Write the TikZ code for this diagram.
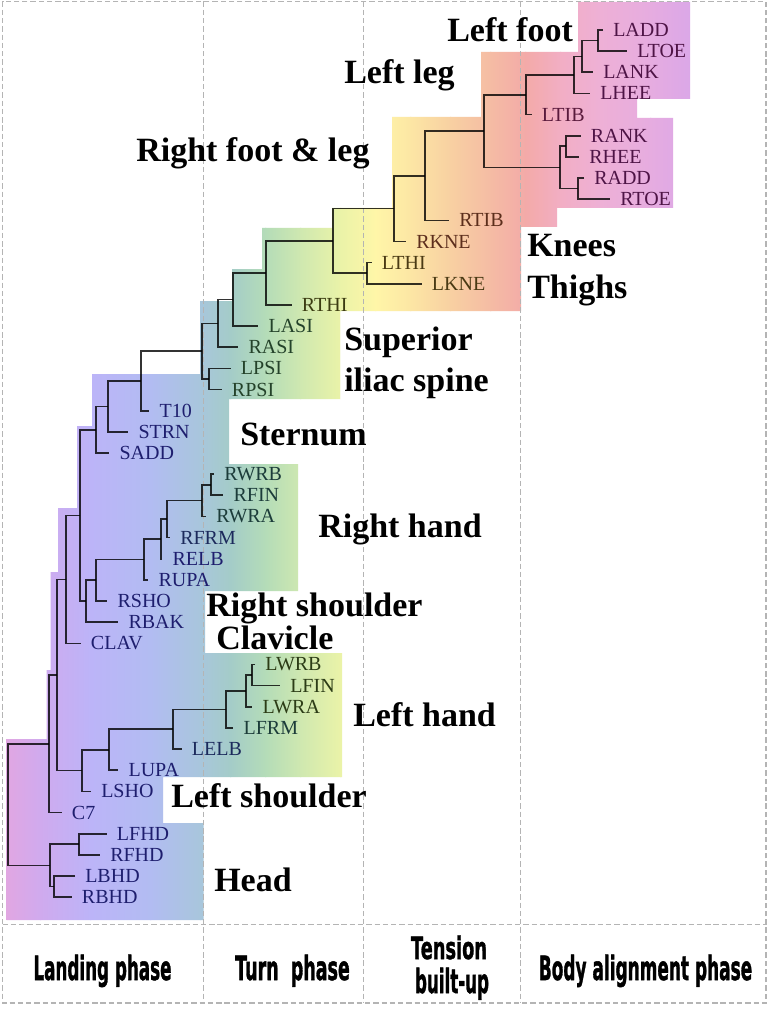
\documentclass[tikz,border=0pt]{standalone}
\usepackage{fontspec}
\setmainfont{Liberation Serif}
\newfontfamily\phasefont{DejaVu Sans}[BoldFeatures={FakeBold=1.6}]
\usepackage{graphicx}
\usetikzlibrary{calc}
% gradient stops
\definecolor{g0}{HTML}{E4A6E0}
\definecolor{g1}{HTML}{D0AAEE}
\definecolor{g2}{HTML}{BCB4F8}
\definecolor{g3}{HTML}{B2BCF2}
\definecolor{g4}{HTML}{A8C6DC}
\definecolor{g5}{HTML}{A4CCC8}
\definecolor{g6}{HTML}{B4DCB8}
\definecolor{g7}{HTML}{CFE8B0}
\definecolor{g8}{HTML}{EAF3A8}
\definecolor{g9}{HTML}{FFF6A8}
\definecolor{g10}{HTML}{FCE6A4}
\definecolor{g11}{HTML}{F8D0A2}
\definecolor{g12}{HTML}{F5BCA4}
\definecolor{g13}{HTML}{F3AAA8}
\definecolor{g14}{HTML}{F2AEC4}
\definecolor{g15}{HTML}{EEB0D6}
\definecolor{g16}{HTML}{E6ACE0}
\definecolor{g17}{HTML}{D8A6EA}
% label colours
\definecolor{cP}{HTML}{4E1446}
\definecolor{cM}{HTML}{5A1A3C}
\definecolor{cB}{HTML}{5C2E1C}
\definecolor{cO}{HTML}{4A3A14}
\definecolor{cOO}{HTML}{3C3C12}
\definecolor{cG}{HTML}{24422A}
\definecolor{cN}{HTML}{1E1E6E}
\definecolor{cNT}{HTML}{1C2A5C}
\definecolor{cT}{HTML}{1C3C3A}
\definecolor{cOG}{HTML}{2C3C16}
\definecolor{gridc}{HTML}{B4B4B4}
\newcommand\mkleaf[4]{\node[leaflab,text=#4] (#1) at ({#2-10},{30+(#3-1)*21.15}) {#1};}
\newcommand\mkjn[4]{\path let \p1=(#3), \p2=(#4) in coordinate (#1) at ({#2*0.75pt},{(\y1+\y2)/2});
  \draw[tl] (#3) -| (#1) |- (#4);}
\newcommand\phz[3]{\resizebox{#1}{#2}{\phasefont\bfseries #3}}
\begin{document}
\begin{tikzpicture}[x=0.75pt,y=-0.75pt,
  leaflab/.style={anchor=west,inner xsep=7.5pt,inner ysep=0pt,font=\fontsize{15}{15}\selectfont},
  tl/.style={draw=black,draw opacity=0.8,line width=1.25pt},
  big/.style={anchor=base west,inner sep=0pt,text=black,font=\fontsize{25.5}{28}\selectfont\bfseries},
  phase/.style={anchor=base,inner sep=0pt,text=black},
  grid/.style={draw=gridc,line width=1.1pt,dash pattern=on 4pt off 2.2pt}]
\useasboundingbox (0,0) rectangle (769,1009);
\fill[white] (0,0) rectangle (769,1009);
% gradient regions
\begin{scope}
\clip (578,2) rectangle (690,99) (481,52) rectangle (637,118) (557,118) rectangle (673,208)
  (392,117) rectangle (557,227) (392,117) rectangle (521,311) (332,208) rectangle (392,311)
  (262,228) rectangle (340,311) (232,269) rectangle (340,399) (200,301) rectangle (232,399)
  (92,374) rectangle (229,464) (77,426) rectangle (229,464) (77,464) rectangle (298,591)
  (58,508) rectangle (298,591) (50.7,572) rectangle (205,653) (50.7,653) rectangle (342,777)
  (46.7,670) rectangle (342,777) (46.7,777) rectangle (163,823) (6.7,739) rectangle (163,823)
  (6.7,823) rectangle (203.5,920);
\foreach \xa/\xb/\ca/\cb in {0/40/g0/g1,40/90/g1/g2,90/150/g2/g3,150/200/g3/g4,200/230/g4/g5,
  230/265/g5/g6,265/300/g6/g7,300/340/g7/g8,340/375/g8/g9,375/410/g9/g10,410/450/g10/g11,
  450/490/g11/g12,490/525/g12/g13,525/560/g13/g14,560/600/g14/g15,600/650/g15/g16,650/700/g16/g17,700/769/g17/g17}
  {\shade[left color=\ca,right color=\cb] (\xa,0) rectangle (\xb+1,1009);}
\end{scope}
% dashed grid
\draw[grid] (2.5,1.5) rectangle (766,1003);
\draw[grid] (2.5,924.5) -- (766,924.5);
\foreach \gx in {203.5,363.5,520.5} {\draw[grid] (\gx,1.5) -- (\gx,1003);}
% leaves
\mkleaf{LADD}{613}{1}{cP}
\mkleaf{LTOE}{637}{2}{cP}
\mkleaf{LANK}{603}{3}{cP}
\mkleaf{LHEE}{600}{4}{cP}
\mkleaf{LTIB}{541.7}{5}{cM}
\mkleaf{RANK}{590.7}{6}{cP}
\mkleaf{RHEE}{589}{7}{cP}
\mkleaf{RADD}{594}{8}{cP}
\mkleaf{RTOE}{620}{9}{cP}
\mkleaf{RTIB}{459}{10}{cB}
\mkleaf{RKNE}{416}{11}{cB}
\mkleaf{LTHI}{381.7}{12}{cO}
\mkleaf{LKNE}{431.7}{13}{cO}
\mkleaf{RTHI}{301.7}{14}{cOO}
\mkleaf{LASI}{268.3}{15}{cG}
\mkleaf{RASI}{248.3}{16}{cG}
\mkleaf{LPSI}{240.7}{17}{cG}
\mkleaf{RPSI}{231.7}{18}{cG}
\mkleaf{T10}{159.3}{19}{cN}
\mkleaf{STRN}{138.3}{20}{cN}
\mkleaf{SADD}{119.3}{21}{cN}
\mkleaf{RWRB}{224}{22}{cT}
\mkleaf{RFIN}{233.3}{23}{cT}
\mkleaf{RWRA}{216}{24}{cT}
\mkleaf{RFRM}{180}{25}{cNT}
\mkleaf{RELB}{172.3}{26}{cN}
\mkleaf{RUPA}{158.3}{27}{cN}
\mkleaf{RSHO}{117.3}{28}{cN}
\mkleaf{RBAK}{128.3}{29}{cN}
\mkleaf{CLAV}{90.7}{30}{cN}
\mkleaf{LWRB}{265}{31}{cOG}
\mkleaf{LFIN}{290}{32}{cOG}
\mkleaf{LWRA}{262.3}{33}{cOG}
\mkleaf{LFRM}{243.3}{34}{cT}
\mkleaf{LELB}{191.7}{35}{cNT}
\mkleaf{LUPA}{128.3}{36}{cN}
\mkleaf{LSHO}{101}{37}{cN}
\mkleaf{C7}{71.7}{38}{cN}
\mkleaf{LFHD}{116.7}{39}{cN}
\mkleaf{RFHD}{110}{40}{cN}
\mkleaf{LBHD}{85}{41}{cN}
\mkleaf{RBHD}{81.7}{42}{cN}
% junctions
\mkjn{n1}{598}{LADD.west}{LTOE.west}
\mkjn{n2}{581.7}{n1}{LANK.west}
\mkjn{n3}{574.3}{n2}{LHEE.west}
\mkjn{n4}{525.7}{n3}{LTIB.west}
\mkjn{n5}{566}{RANK.west}{RHEE.west}
\mkjn{n6}{578.3}{RADD.west}{RTOE.west}
\mkjn{n7}{560}{n5}{n6}
\mkjn{n8}{484.3}{n4}{n7}
\mkjn{n9}{425}{n8}{RTIB.west}
\mkjn{n10}{394.3}{n9}{RKNE.west}
\mkjn{n11}{366.7}{LTHI.west}{LKNE.west}
\mkjn{n12}{332.7}{n10}{n11}
\mkjn{n13}{265.7}{n12}{RTHI.west}
\mkjn{n14}{233.3}{n13}{LASI.west}
\mkjn{n15}{218.3}{n14}{RASI.west}
\mkjn{n16}{209.3}{LPSI.west}{RPSI.west}
\mkjn{n17}{201.7}{n15}{n16}
\mkjn{n18}{140.7}{n17}{T10.west}
\mkjn{n19}{107.7}{n18}{STRN.west}
\mkjn{n20}{95.7}{n19}{SADD.west}
\mkjn{h1}{210.7}{RWRB.west}{RFIN.west}
\mkjn{h2}{201.7}{h1}{RWRA.west}
\mkjn{h3}{166.7}{h2}{RFRM.west}
\mkjn{h4}{161}{h3}{RELB.west}
\mkjn{h5}{144}{h4}{RUPA.west}
\mkjn{h6}{95.7}{h5}{RSHO.west}
\mkjn{h7}{86}{h6}{RBAK.west}
\mkjn{n21}{80}{n20}{h7}
\mkjn{n22}{65.7}{n21}{CLAV.west}
\mkjn{l1}{251.7}{LWRB.west}{LFIN.west}
\mkjn{l2}{245.7}{l1}{LWRA.west}
\mkjn{l3}{226}{l2}{LFRM.west}
\mkjn{l4}{173.3}{l3}{LELB.west}
\mkjn{l5}{109}{l4}{LUPA.west}
\mkjn{l6}{81.7}{l5}{LSHO.west}
\mkjn{n23}{57.3}{n22}{l6}
\mkjn{n24}{49.3}{n23}{C7.west}
\mkjn{d1}{79}{LFHD.west}{RFHD.west}
\mkjn{d2}{54}{LBHD.west}{RBHD.west}
\mkjn{d3}{50}{d1}{d2}
\mkjn{root}{8.3}{n24}{d3}
% group labels
\node[big] (glfoot) at (447,41.3) {Left foot};
\node[big] (glleg) at (344,83.3) {Left leg};
\node[big] (grfl) at (136,162) {Right foot \& leg};
\node[big] (gknees) at (527,256) {Knees};
\node[big] (gthighs) at (527,298) {Thighs};
\node[big] (gsup) at (344,350) {Superior};
\node[big] (giliac) at (344,391.5) {iliac spine};
\node[big] (gstern) at (240,445) {Sternum};
\node[big] (grhand) at (318,537) {Right hand};
\node[big] (grsho) at (206,616) {Right shoulder};
\node[big] (gclav) at (216,649) {Clavicle};
\node[big] (glhand) at (353,726) {Left hand};
\node[big] (glsho) at (171,807) {Left shoulder};
\node[big] (ghead) at (214,891) {Head};
% phase labels
\node[phase] (p1) at (102.5,980) {\phz{103.5pt}{19pt}{Landing phase}};
\node[phase] (p2) at (292.5,980) {\phz{86pt}{19pt}{Turn\ \ phase}};
\node[phase] (p3a) at (449,959) {\phz{57pt}{17.5pt}{Tension}};
\node[phase] (p3b) at (452,993) {\phz{55.5pt}{19pt}{built-up}};
\node[phase] (p4) at (645.5,980) {\phz{160pt}{19pt}{Body alignment phase}};
\end{tikzpicture}
\end{document}
